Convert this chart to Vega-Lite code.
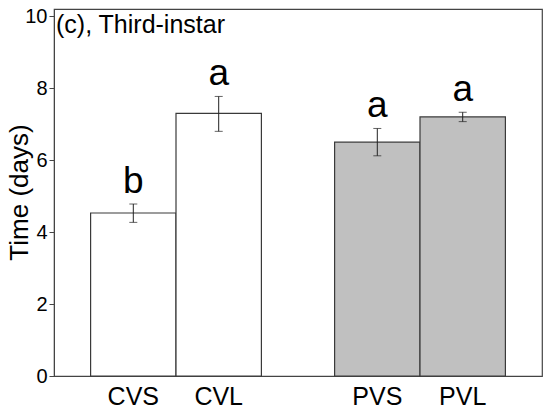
{
  "$schema": "https://vega.github.io/schema/vega-lite/v6.json",
  "width": 488,
  "height": 367,
  "autosize": "none",
  "padding": {"left": 54, "top": 9, "right": 8, "bottom": 36},
  "background": "white",
  "config": {
    "font": "Liberation Sans",
    "view": {"stroke": "#444444", "strokeWidth": 1.2}
  },
  "datasets": {
    "bars": [
      {"name": "CVS", "group": "C", "size": "S", "mean": 4.53, "lo": 4.27, "hi": 4.78, "letter": "b"},
      {"name": "CVL", "group": "C", "size": "L", "mean": 7.3, "lo": 6.8, "hi": 7.77, "letter": "a"},
      {"name": "PVS", "group": "P", "size": "S", "mean": 6.5, "lo": 6.12, "hi": 6.88, "letter": "a"},
      {"name": "PVL", "group": "P", "size": "L", "mean": 7.2, "lo": 7.07, "hi": 7.33, "letter": "a"}
    ],
    "panel": [
      {"label": "(c), Third-instar"}
    ]
  },
  "layer": [
    {
      "data": {"name": "bars"},
      "layer": [
        {
          "mark": {"type": "bar", "stroke": "#3a3a3a", "strokeWidth": 1.2},
          "encoding": {
            "y": {
              "field": "mean",
              "type": "quantitative",
              "scale": {"domain": [0, 10.2], "nice": false},
              "axis": {
                "title": "Time (days)",
                "titleFontSize": 26,
                "titleFontWeight": "normal",
                "titleColor": "black",
                "titleX": -27,
                "titleY": 183,
                "titleAlign": "center",
                "titleBaseline": "alphabetic",
                "values": [0, 2, 4, 6, 8, 10],
                "labelFontSize": 20,
                "labelColor": "black",
                "labelPadding": 2,
                "tickSize": 5,
                "tickColor": "#444444",
                "domainColor": "#444444",
                "grid": false
              }
            },
            "fill": {
              "field": "group",
              "type": "nominal",
              "scale": {"domain": ["C", "P"], "range": ["white", "#c0c0c0"]},
              "legend": null
            }
          }
        },
        {
          "mark": {"type": "rule", "color": "#222222", "strokeWidth": 1},
          "encoding": {
            "y": {"field": "lo", "type": "quantitative"},
            "y2": {"field": "hi"}
          }
        },
        {
          "mark": {"type": "tick", "color": "#222222", "size": 8, "thickness": 1},
          "encoding": {"y": {"field": "lo", "type": "quantitative"}}
        },
        {
          "mark": {"type": "tick", "color": "#222222", "size": 8, "thickness": 1},
          "encoding": {"y": {"field": "hi", "type": "quantitative"}}
        },
        {
          "mark": {"type": "text", "fontSize": 37, "baseline": "alphabetic", "dy": -11, "color": "black"},
          "encoding": {
            "y": {"field": "hi", "type": "quantitative"},
            "text": {"field": "letter"}
          }
        },
        {
          "mark": {"type": "text", "fontSize": 25, "baseline": "middle", "dy": 21, "color": "black"},
          "encoding": {
            "y": {"datum": 0},
            "text": {"field": "name"}
          }
        }
      ],
      "encoding": {
        "x": {
          "field": "group",
          "type": "nominal",
          "scale": {"paddingInner": 0.3, "paddingOuter": 0.15},
          "axis": null
        },
        "xOffset": {
          "field": "size",
          "type": "nominal",
          "sort": ["S", "L"],
          "scale": {"paddingInner": 0, "paddingOuter": 0}
        }
      }
    },
    {
      "data": {"name": "panel"},
      "mark": {"type": "text", "fontSize": 25, "align": "left", "baseline": "alphabetic", "dx": -34.6, "dy": 24, "color": "black"},
      "encoding": {
        "x": {"datum": "C", "bandPosition": 0, "type": "nominal"},
        "y": {"datum": 10.2, "type": "quantitative"},
        "text": {"field": "label"}
      }
    }
  ]
}
